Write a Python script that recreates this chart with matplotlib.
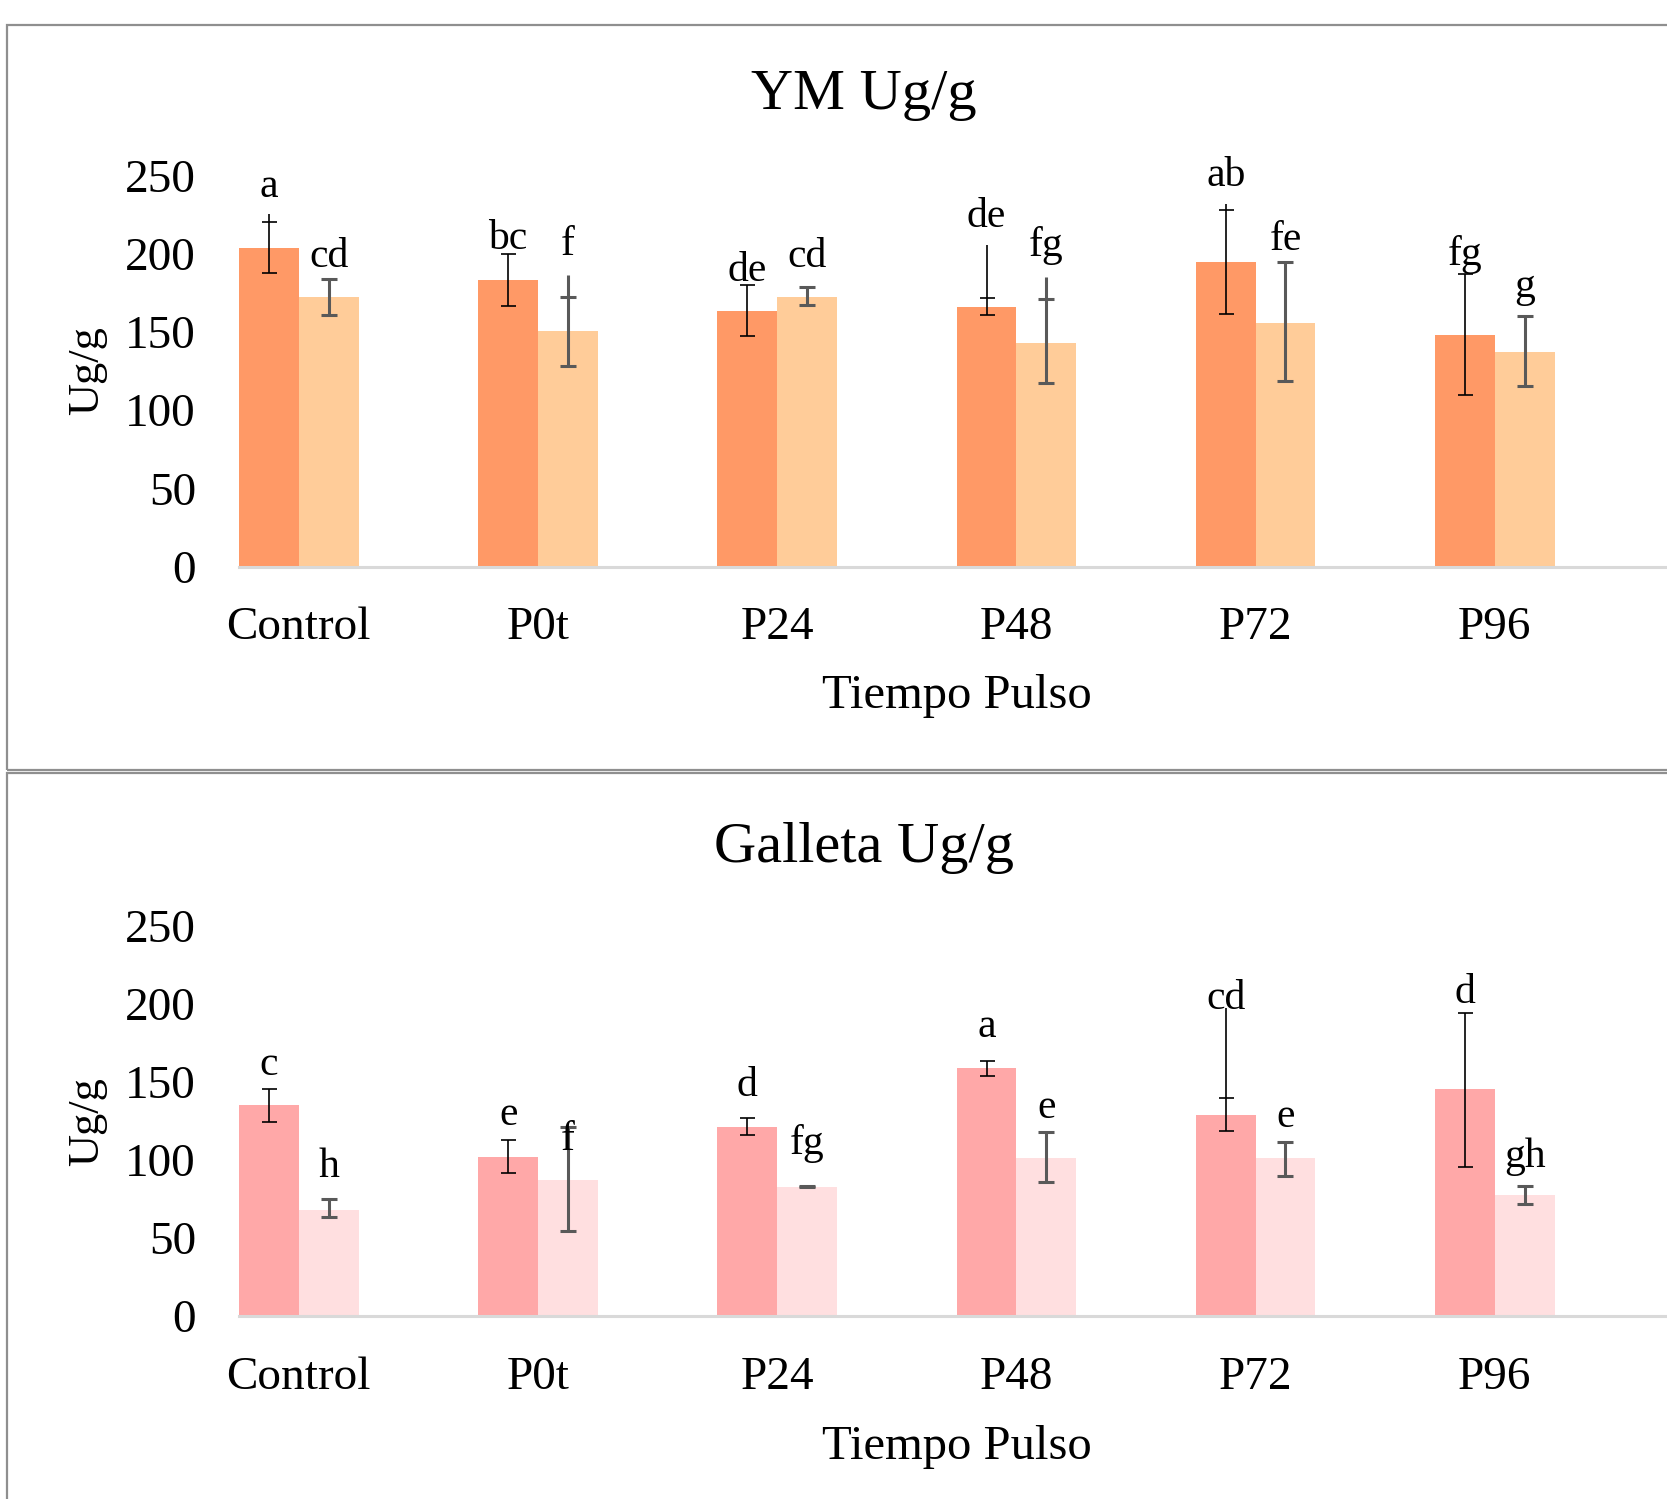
import numpy as np
import matplotlib
matplotlib.use('Agg')
import matplotlib.pyplot as plt
from matplotlib.patches import Rectangle

plt.rcParams['font.family'] = ['Liberation Serif', 'DejaVu Serif']

categories = ["Control", "P0t", "P24", "P48", "P72", "P96"]

# YM Ug/g
ym_dark = [203.4, 183.4, 163.4, 165.7, 194.5, 148.2]
ym_dark_lo = [187.4, 166.6, 147.6, 160.6, 161.4, 109.9]
ym_dark_hi = [220.4, 200.0, 180.0, 171.5, 227.9, 187.0]
ym_dark_top = [225.3, 200.0, 180.0, 205.5, 231.7, 187.0]
ym_light = [172.1, 150.6, 172.1, 143.1, 155.7, 137.0]
ym_light_lo = [161.0, 128.0, 167.4, 117.1, 118.4, 115.4]
ym_light_hi = [183.8, 172.1, 178.9, 170.8, 194.7, 160.0]
ym_light_top = [183.8, 186.6, 178.9, 185.3, 194.7, 160.0]
ym_let_dark = ["a", "bc", "de", "de", "ab", "fg"]
ym_let_light = ["cd", "f", "cd", "fg", "fe", "g"]
ym_let_dark_y = [236.4, 202.7, 182.7, 216.8, 243.2, 192.7]
ym_let_light_y = [191.6, 199.1, 191.6, 198.5, 202.3, 172.5]

# Galleta Ug/g
gal_dark = [135.3, 102.2, 121.2, 159.1, 128.9, 145.6]
gal_dark_lo = [124.4, 91.8, 115.7, 154.0, 118.4, 95.7]
gal_dark_hi = [145.7, 113.1, 126.7, 163.4, 139.5, 194.4]
gal_dark_top = [145.7, 113.1, 126.7, 163.4, 197.7, 194.4]
gal_light = [68.2, 87.1, 82.9, 101.0, 101.0, 77.3]
gal_light_lo = [63.5, 54.3, 82.6, 85.6, 89.4, 72.0]
gal_light_hi = [75.2, 121.0, 83.2, 118.2, 111.6, 83.0]
gal_light_top = [75.2, 121.0, 83.2, 118.2, 111.6, 83.0]
gal_let_dark = ["c", "e", "d", "a", "cd", "d"]
gal_let_light = ["h", "f", "fg", "e", "e", "gh"]
gal_let_dark_y = [154.6, 122.7, 140.8, 178.5, 196.6, 200.4]
gal_let_light_y = [89.0, 106.5, 104.0, 127.0, 121.0, 95.8]

yticks = [0, 50, 100, 150, 200, 250]

fig = plt.figure(figsize=(16.67, 14.99), dpi=100)

# panel frames
for (y0, h) in [(0.4863, 0.4967), (-0.1, 0.584)]:
    fig.patches.append(Rectangle((0.0039, y0), 1.2, h, transform=fig.transFigure,
                                 fill=False, edgecolor='#8f8f8f', lw=1.6))


def panel(rect, title, ty, dark, dlo, dhi, dtop, light, llo, lhi, ltop,
          ldark, ldy, llight, lly, c_dark, c_light, ylab_y, xlab_y):
    ax = fig.add_axes(rect)
    x = np.arange(len(categories))
    w = 0.25
    dark = np.array(dark); light = np.array(light)
    ax.bar(x - w / 2, dark, w, color=c_dark, zorder=2)
    ax.bar(x + w / 2, light, w, color=c_light, zorder=2)
    ax.errorbar(x - w / 2, dark, yerr=[dark - np.array(dlo), np.array(dhi) - dark],
                fmt='none', ecolor='black', elinewidth=1.2, capsize=5.4, capthick=1.2, zorder=3)
    ax.vlines(x - w / 2, dhi, dtop, color='black', lw=1.2, zorder=3)
    ax.errorbar(x + w / 2, light, yerr=[light - np.array(llo), np.array(lhi) - light],
                fmt='none', ecolor='#595959', elinewidth=2.2, capsize=5.6, capthick=2.2, zorder=3)
    ax.vlines(x + w / 2, lhi, ltop, color='#595959', lw=2.2, zorder=3)
    for i in range(len(categories)):
        ax.text(x[i] - w / 2, ldy[i], ldark[i], ha='center', va='baseline', fontsize=30, zorder=4)
        ax.text(x[i] + w / 2, lly[i], llight[i], ha='center', va='baseline', fontsize=30, zorder=4)
    ax.set_xlim(-0.25, 5.72)
    ax.set_ylim(0, 250)
    ax.set_yticks(yticks)
    ax.set_xticks(x)
    ax.set_xticklabels(categories)
    ax.tick_params(axis='y', length=0, pad=31, labelsize=34)
    ax.tick_params(axis='x', length=0, pad=29, labelsize=34)
    for s in ['top', 'right', 'left']:
        ax.spines[s].set_visible(False)
    ax.spines['bottom'].set_color('#d9d9d9')
    ax.spines['bottom'].set_linewidth(2.2)
    ax.set_facecolor('none')
    fig.text(0.518, ty, title, ha='center', va='center', fontsize=42)
    fig.text(0.052, ylab_y, "Ug/g", rotation=90, ha='center', va='center', fontsize=32)
    fig.text(0.574, xlab_y, "Tiempo Pulso", ha='center', va='center', fontsize=35)
    return ax


panel([0.1434, 0.622, 0.8566, 0.261], "YM Ug/g", 0.9365,
      ym_dark, ym_dark_lo, ym_dark_hi, ym_dark_top,
      ym_light, ym_light_lo, ym_light_hi, ym_light_top,
      ym_let_dark, ym_let_dark_y, ym_let_light, ym_let_light_y,
      '#ff9966', '#ffcc99', 0.753, 0.5357)

panel([0.1434, 0.1221, 0.8566, 0.2602], "Galleta Ug/g", 0.4345,
      gal_dark, gal_dark_lo, gal_dark_hi, gal_dark_top,
      gal_light, gal_light_lo, gal_light_hi, gal_light_top,
      gal_let_dark, gal_let_dark_y, gal_let_light, gal_let_light_y,
      '#ffa8a8', '#ffdfe0', 0.2518, 0.035)

plt.savefig('out.png', dpi=100)
